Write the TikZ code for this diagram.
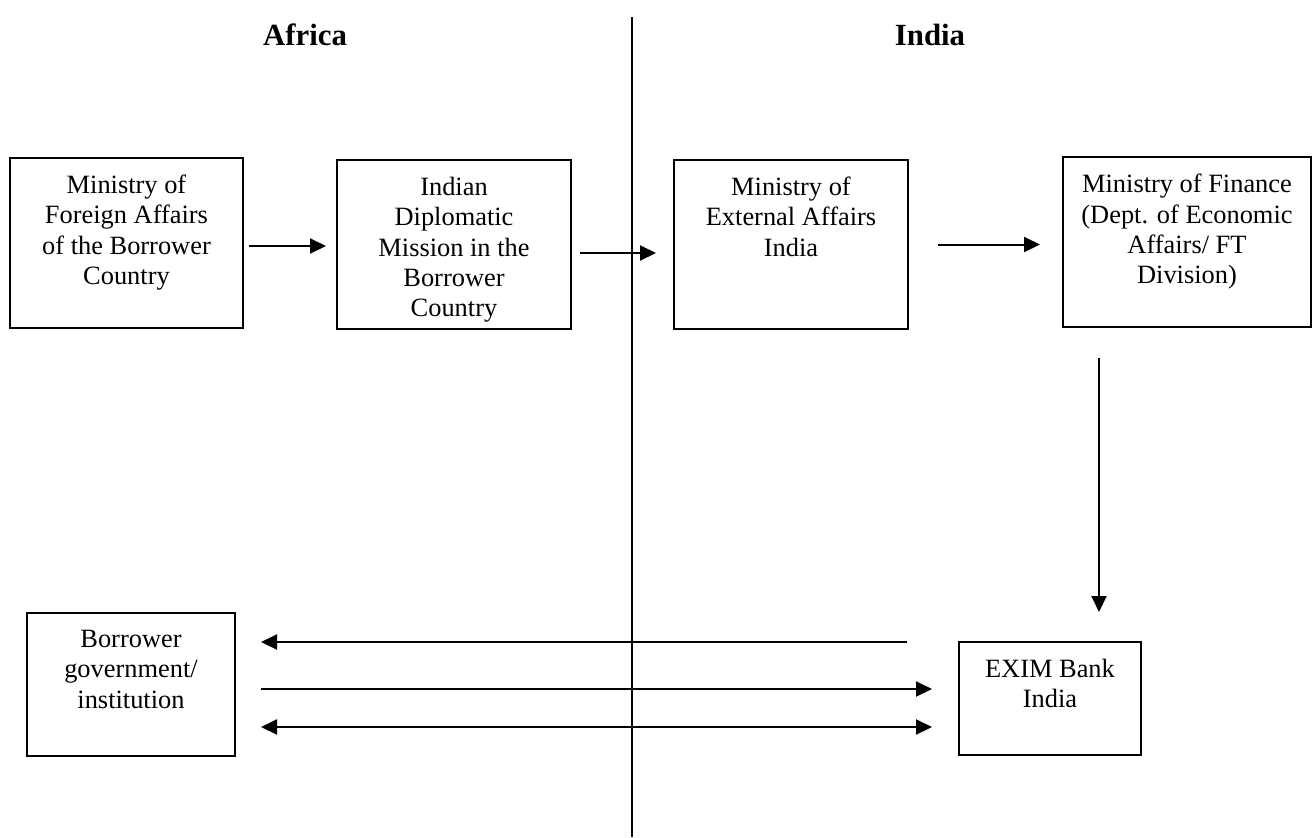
\documentclass[tikz,border=0pt]{standalone}
\usepackage{fontspec}
\setmainfont{Liberation Serif}
\usepackage{tikz}
\usetikzlibrary{arrows,arrows.meta}
\usetikzlibrary{positioning,calc}

\begin{document}
\begin{tikzpicture}[x=0.5pt,y=-0.5pt,line width=1pt,
  >={Triangle[length=8pt,width=7.5pt]},
  box/.style={draw,rectangle,inner sep=0pt},
  txt/.style={anchor=north,align=center,inner sep=0pt,yshift=-8.5pt,font=\fontsize{13.2}{15.2}\selectfont},
  side/.style={anchor=base,inner sep=0pt,font=\bfseries\fontsize{15.4}{18}\selectfont}]
\useasboundingbox (0,0) rectangle (1313,837);
%
\node (af) [side] at (305,45) {Africa};
\node (in) [side] at (930,45) {India};
\draw[line width=1.2pt] (632,17) -- (632,837);
%
\node (mfa) [box,minimum width=116.5pt,minimum height=85pt,label={[txt]north:Ministry of\\Foreign Affairs\\of the Borrower\\Country}] at (126.5,243) {};
\node (mis) [box,minimum width=117pt,minimum height=84.5pt,label={[txt]north:Indian\\Diplomatic\\Mission in the\\Borrower\\Country}] at (454,244.5) {};
\node (mea) [box,minimum width=117pt,minimum height=84.5pt,label={[txt]north:Ministry of\\External Affairs\\India}] at (791,244.5) {};
\node (mof) [box,minimum width=124pt,minimum height=85pt,label={[txt]north:Ministry of Finance\\(Dept. of Economic\\Affairs/ FT\\Division)}] at (1187,242) {};
\node (brw) [box,minimum width=104pt,minimum height=71.5pt,label={[txt]north:Borrower\\government/\\institution}] at (131,684.5) {};
\node (exim) [box,minimum width=91pt,minimum height=56.5pt,label={[txt]north:EXIM Bank\\India}] at (1050,698.5) {};
%
\draw[->,shorten <=2.5pt,shorten >=5pt] ([yshift=-1.5pt]mfa.east) to ([yshift=-1.5pt]mfa.east -| mis.west);
\draw[->,shorten <=4pt,shorten >=8.5pt] ([yshift=-4.25pt]mis.east) to ([yshift=-4.25pt]mis.east -| mea.west);
\draw[->,shorten <=14.5pt,shorten >=11pt] (mea.east) to (mea.east -| mof.west);
%
\draw[->,shorten <=15pt,shorten >=14.5pt] ([xshift=-44pt]mof.south) to ([xshift=-44pt]mof.south |- exim.north);
%
\draw[->,shorten <=25.5pt,shorten >=12.5pt] ([yshift=21.25pt]brw.east -| exim.west) to ([yshift=21.25pt]brw.east);
\draw[->,shorten <=12.5pt,shorten >=13pt] ([yshift=-2.25pt]brw.east) to ([yshift=-2.25pt]brw.east -| exim.west);
\draw[<->,shorten <=12.5pt,shorten >=13pt] ([yshift=-21.25pt]brw.east) to ([yshift=-21.25pt]brw.east -| exim.west);
%
\end{tikzpicture}
\end{document}
